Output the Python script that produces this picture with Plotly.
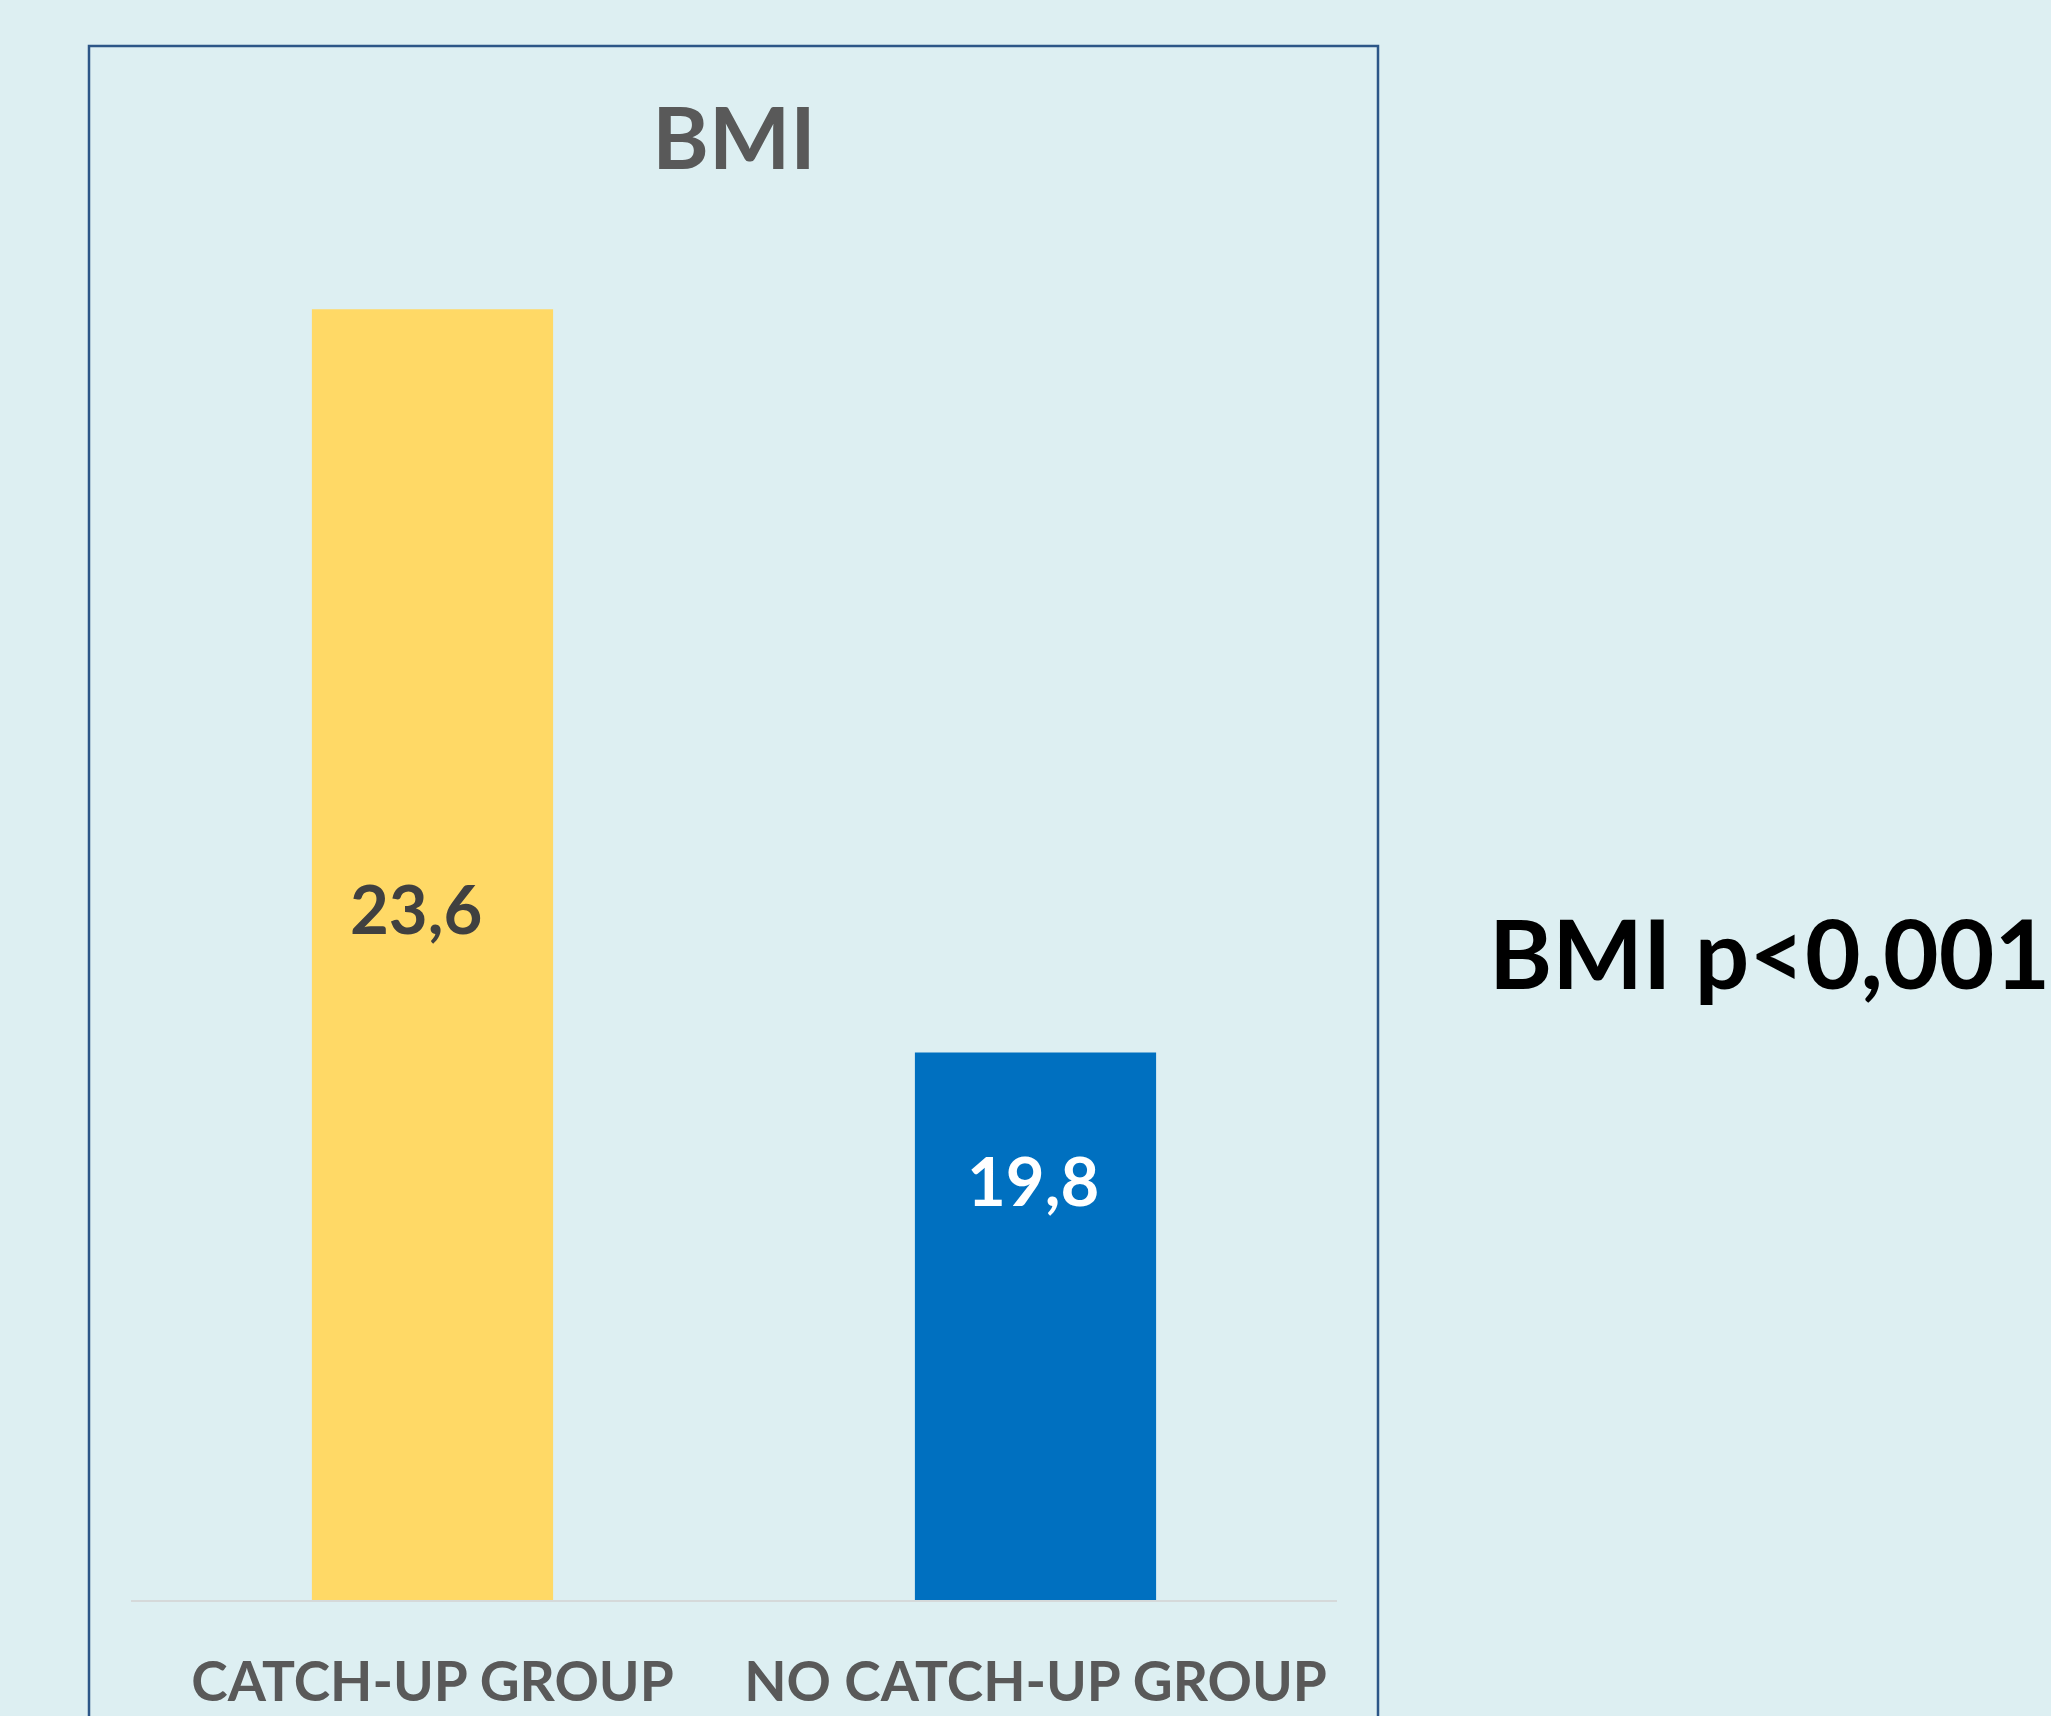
import plotly.graph_objects as go

# ---- data ----
categories = ["CATCH-UP GROUP", "NO CATCH-UP GROUP"]
bmi_values = [23.6, 19.8]
value_labels = ["23,6", "19,8"]
chart_title = "BMI"
side_note = "BMI p<0,001"

# ---- style ----
BG = "#DDEFF2"
BAR_COLORS = ["#FFD966", "#0070C0"]
LABEL_COLORS = ["#404040", "#FFFFFF"]
LABEL_XSHIFT = [-17, -3]
LABEL_YSHIFT = [-599, -128]
FONT = "Lato"

W, H = 2051, 1716
ML, MR, MT, MB = 131, 714, 231, 116

fig = go.Figure()
fig.add_trace(go.Bar(
    x=categories, y=bmi_values,
    marker=dict(color=BAR_COLORS, line=dict(width=0)),
    width=0.4, hoverinfo="x+y",
))

for i, (c, v, t) in enumerate(zip(categories, bmi_values, value_labels)):
    fig.add_annotation(
        x=c, y=v, xref="x", yref="y", text=f"<b>{t}</b>", showarrow=False,
        yanchor="middle", xanchor="center",
        xshift=LABEL_XSHIFT[i], yshift=LABEL_YSHIFT[i],
        font=dict(family=FONT, size=67, color=LABEL_COLORS[i]),
    )

fig.add_annotation(
    x=1.359, y=0.474, xref="paper", yref="paper", text=f"<b>{side_note}</b>",
    showarrow=False, xanchor="center", yanchor="middle",
    font=dict(family=FONT, size=96, color="#000000"),
)

# chart frame
pw = W - ML - MR
ph = H - MT - MB
fig.add_shape(
    type="rect", xref="paper", yref="paper",
    x0=(89 - ML) / pw, x1=(1378 - ML) / pw,
    y0=-0.3, y1=(H - MB - 46) / ph,
    line=dict(color="#2C5687", width=2.5), fillcolor="rgba(0,0,0,0)", layer="below",
)

fig.update_layout(
    width=W, height=H,
    margin=dict(l=ML, r=MR, t=MT, b=MB, autoexpand=False),
    paper_bgcolor=BG, plot_bgcolor=BG,
    showlegend=False,
    title=dict(text=f"<b>{chart_title}</b>", x=0.5, xref="paper",
               y=1 - 139 / H, yref="container", xanchor="center", yanchor="middle",
               font=dict(family=FONT, size=86, color="#595959")),
    bargap=0.6,
    xaxis=dict(showline=True, linecolor="#D5D9DA", linewidth=2, ticks="",
               showgrid=False, zeroline=False,
               tickfont=dict(family=FONT, size=55, color="#595959", weight="bold"),
               ticklabelstandoff=33),
    yaxis=dict(visible=False, range=[17, 24], showgrid=False, zeroline=False),
)

fig.write_html("out.html")
